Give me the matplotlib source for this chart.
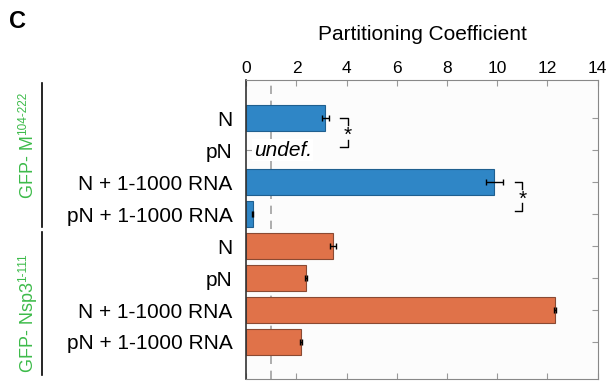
import numpy as np
import matplotlib
matplotlib.use("Agg")
import matplotlib.pyplot as plt

plt.rcParams["font.family"] = ["Liberation Sans", "DejaVu Sans"]

# data
categories = ["N", "pN", "N + 1-1000 RNA", "pN + 1-1000 RNA",
              "N", "pN", "N + 1-1000 RNA", "pN + 1-1000 RNA"]
m_values = [3.15, np.nan, 9.88, 0.25]
m_errors = [0.15, np.nan, 0.33, 0.03]
nsp3_values = [3.44, 2.38, 12.3, 2.19]
nsp3_errors = [0.12, 0.04, 0.03, 0.04]
groups = [("GFP- M", "104-222"), ("GFP- Nsp3", "1-111")]

blue = "#2f86c6"
orange = "#e07249"
green = "#3dbb4a"

fig = plt.figure(figsize=(6.08, 3.81), dpi=100)
ax = fig.add_axes([0.405, 0.005, 0.578, 0.785])
ax.set_facecolor("#fcfcfc")

y = np.arange(len(categories))
ax.barh(y[:4], m_values, height=0.8, color=blue, edgecolor="#1f5f8f", linewidth=0.8, zorder=2)
ax.barh(y[4:], nsp3_values, height=0.8, color=orange, edgecolor="#8a4a33", linewidth=0.8, zorder=2)
ax.errorbar(m_values, y[:4], xerr=m_errors, fmt="none", ecolor="black",
            elinewidth=1, capsize=2, zorder=3)
ax.errorbar(nsp3_values, y[4:], xerr=nsp3_errors, fmt="none", ecolor="black",
            elinewidth=1, capsize=2, zorder=3)

ax.axvline(1, color="#a0a0a0", linestyle=(0, (5, 4)), linewidth=1.2, zorder=1)

ax.text(0.3, 1, "undef.", fontsize=15, style="italic", va="center", ha="left",
        bbox=dict(facecolor="white", edgecolor="none", pad=1), zorder=4)

# significance brackets
def bracket(x, x0, y0, y1):
    ym = (y0 + y1) / 2
    ax.plot([x0, x, x], [y0, y0, ym - 0.22], color="black", lw=1, zorder=4)
    ax.plot([x, x, x0], [ym + 0.22, y1, y1], color="black", lw=1, zorder=4)
    ax.text(x, ym + 0.1, "*", ha="center", va="center", fontsize=15, zorder=4)

bracket(4.05, 3.75, 0.0, 0.9)
bracket(11.0, 10.7, 2.0, 2.9)

ax.set_xlim(0, 14)
ax.set_ylim(8.16, -1.19)
ax.set_xticks(range(0, 15, 2))
ax.set_yticks(y)
ax.set_yticklabels(categories, fontsize=15)
ax.xaxis.tick_top()
ax.tick_params(axis="x", labelsize=12.5, direction="in", length=4, color="#999999",
               top=True, bottom=True, pad=3)
ax.tick_params(axis="y", direction="in", length=4, color="#999999",
               left=True, right=True, pad=10)
ax.set_xlabel("Partitioning Coefficient", fontsize=15, labelpad=15)
ax.xaxis.set_label_position("top")
for side in ["top", "right", "bottom"]:
    ax.spines[side].set_color("#888888")
ax.spines["left"].set_color("#333333")
ax.spines["left"].set_linewidth(1.2)

# group labels: vertical bars and rotated green text with a small superscript
fig.add_artist(plt.Line2D([42 / 608, 42 / 608], [1 - 83 / 381, 1 - 227 / 381],
                          color="black", lw=1.2))
fig.add_artist(plt.Line2D([42 / 608, 42 / 608], [1 - 232 / 381, 1 - 375 / 381],
                          color="black", lw=1.2))

renderer = fig.canvas.get_renderer()
for (main, sup), y_start in zip(groups, [198, 372]):
    t = fig.text(33 / 608, 1 - y_start / 381, main, rotation=90, color=green,
                 fontsize=13, ha="left", va="baseline", rotation_mode="anchor")
    h = t.get_window_extent(renderer).height
    fig.text(26 / 608, 1 - (y_start - h) / 381, sup, rotation=90, color=green,
             fontsize=8.5, ha="left", va="baseline", rotation_mode="anchor")

fig.text(18 / 608, 1 - 22 / 381, "C", fontsize=17, fontweight="bold",
         ha="center", va="center")

fig.savefig("out.png", dpi=100)
